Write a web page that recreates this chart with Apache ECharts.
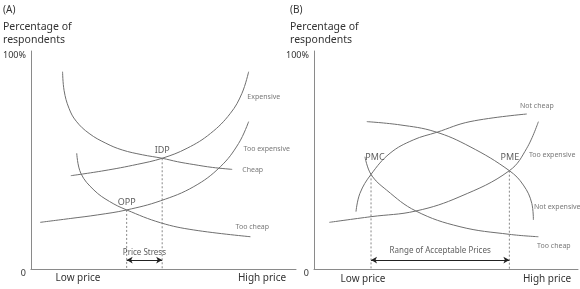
<!DOCTYPE html>
<html><head><meta charset="utf-8">
<script src="https://cdn.jsdelivr.net/npm/echarts@6/dist/echarts.min.js"></script>
<style>html,body{margin:0;padding:0;background:#fff}#c{width:580px;height:289px}</style>
</head><body><div id="c"></div>
<script>
// ---- data (x: price position 0..100, y: % of respondents) ----
const yTickLabels = {0: '0', 100: '100%'};
const panelTitles = ['(A)', '(B)'];
const axisTitle = 'Percentage of\nrespondents';
const xEndLabels = ['Low price', 'High price'];

// Panel A
const aExpensive    = [[15.5,42.8],[28.4,45.1],[41.3,48.0],[51.0,50.8],[60.7,55.4],[69.8,62.2],[77.5,71.4],[82.0,80.6],[84.6,90.5]];
const aCheap        = [[12.3,90.5],[12.9,81.8],[14.8,73.7],[17.6,67.8],[22.6,62.2],[29.1,57.7],[35.5,54.6],[43.3,52.4],[51.0,50.8],[57.0,49.2],[63.3,47.9],[70.5,46.6],[78.2,45.7]];
const aTooExpensive = [[3.6,21.4],[15.5,23.2],[25.8,24.8],[37.2,27.1],[50.4,31.3],[63.3,37.8],[73.6,46.9],[80.7,57.6],[84.6,67.6]];
const aTooCheap     = [[17.8,53.1],[19.4,43.9],[24.5,36.2],[30.5,31.0],[37.2,27.1],[50.4,21.2],[63.3,17.9],[85.3,14.8]];
const aPoints       = [['OPP',37.2,27.1],['IDP',51.0,50.8]];
const aRangeLabel   = 'Price Stress';
const aCurveLabels  = [['Expensive',84.1,79.0],['Too expensive',82.6,55.0],['Cheap',82.1,45.4],['Too cheap',79.5,19.3]];

// Panel B
const bNotCheap     = [[15.9,26.3],[17.4,34.7],[21.6,43.4],[28.8,53.1],[37.6,59.2],[46.5,62.7],[59.1,67.6],[80.6,71.1]];
const bNotExpensive = [[20.0,67.6],[32.6,66.1],[45.8,63.0],[59.1,56.1],[74.0,45.1],[79.3,38.5],[82.5,30.1],[83.1,22.5]];
const bTooCheap     = [[19.3,51.5],[21.6,43.4],[27.5,36.2],[38.6,26.6],[55.3,19.4],[74.0,15.9],[85.0,14.8]];
const bTooExpensive = [[5.8,21.4],[21.6,24.0],[38.6,26.6],[55.3,33.2],[74.0,45.1],[80.6,55.4],[85.0,67.6]];
const bPoints       = [['PMC',21.6,43.4],['PME',74.0,45.1]];
const bRangeLabel   = 'Range of Acceptable Prices';
const bCurveLabels  = [['Not cheap',78.0,74.8],['Too expensive',81.4,52.3],['Not expensive',83.3,28.4],['Too cheap',84.5,10.6]];

// ---- styling ----
const FONT = 'Noto Sans';
const curveColor = '#6f6f6f';
const axisColor = '#8a8a8a';
const textDark = '#333';
const textSoft = '#555';

function curve(data, idx) {
  return {type:'line', data, xAxisIndex:idx, yAxisIndex:idx, smooth:0.4, symbol:'none',
    lineStyle:{color:curveColor, width:1}, silent:true, z:3};
}
function dropLine(p, idx) {
  return {type:'line', data:[[p[1],p[2]],[p[1],0]], xAxisIndex:idx, yAxisIndex:idx, symbol:'none',
    lineStyle:{color:'#888', width:1, type:[2,2]}, silent:true, z:2};
}
function textSeries(items, idx, pos, size, color) {
  return {type:'scatter', xAxisIndex:idx, yAxisIndex:idx, symbolSize:0, silent:true, z:5,
    data: items.map(it => ({name: it[0], value:[it[1], it[2]]})),
    label:{show:true, formatter:'{b}', position:pos, distance:0, fontFamily:FONT, fontSize:size, color:color}};
}
function rangeSeries(points, label, idx, yArrow, yText) {
  return [{type:'line', xAxisIndex:idx, yAxisIndex:idx, data:[], symbol:'none', silent:true,
    markLine:{silent:true, symbol:['arrow','arrow'], symbolSize:[5,6], label:{show:false},
      lineStyle:{color:'#222', width:1, type:'solid'},
      data:[[{coord:[points[0][1], yArrow]},{coord:[points[1][1], yArrow]}]]}},
    textSeries([[label, (points[0][1]+points[1][1])/2, yText]], idx, 'inside', 8, textDark)];
}

const yAxisBase = (gi) => ({type:'value', gridIndex:gi, min:0, max:100, interval:100,
  axisLine:{show:true, lineStyle:{color:axisColor}}, axisTick:{show:false}, splitLine:{show:false},
  axisLabel:{formatter:v => yTickLabels[v], fontFamily:FONT, fontSize:9, color:textDark, margin:5, verticalAlign:'top'}});
const xAxisBase = (gi, max) => ({type:'value', gridIndex:gi, min:0, max, 
  axisLine:{show:true, onZero:false, lineStyle:{color:axisColor}}, axisTick:{show:false}, splitLine:{show:false}, axisLabel:{show:false}});

const chart = echarts.init(document.getElementById('c'), null, {renderer:'canvas'});
const gTxt = (text, x, y, size, align) => ({type:'text', x, y,
  style:{text, fontFamily:FONT, fontSize:size, fill:textDark, textAlign:align||'left', textVerticalAlign:'middle'}});

chart.setOption({
  animation:false,
  grid:[{left:30, top:51, width:266, height:218}, {left:314, top:51, width:264, height:218}],
  xAxis:[xAxisBase(0,103), xAxisBase(1,100)],
  yAxis:[yAxisBase(0), yAxisBase(1)],
  graphic:[
    gTxt(panelTitles[0], 3, 10.5, 10), gTxt(panelTitles[1], 290, 10.5, 10),
    {type:'text', x:3, y:21, style:{text:axisTitle, fontFamily:FONT, fontSize:10.5, fill:textDark, lineHeight:13}},
    {type:'text', x:290, y:21, style:{text:axisTitle, fontFamily:FONT, fontSize:10.5, fill:textDark, lineHeight:13}},
    gTxt(xEndLabels[0], 78, 278, 10, 'center'), gTxt(xEndLabels[1], 262, 278, 10, 'center'),
    gTxt(xEndLabels[0], 363, 279, 10, 'center'), gTxt(xEndLabels[1], 547, 279, 10, 'center')
  ],
  series:[
    curve(aExpensive,0), curve(aCheap,0), curve(aTooExpensive,0), curve(aTooCheap,0),
    ...aPoints.map(p => dropLine(p,0)),
    textSeries(aPoints.map(p => [p[0], p[1], p[2]+3.6]), 0, 'inside', 9, textDark),
    textSeries(aCurveLabels, 0, 'right', 7, textSoft),
    ...rangeSeries(aPoints, aRangeLabel, 0, 4.1, 7.6),
    curve(bNotCheap,1), curve(bNotExpensive,1), curve(bTooCheap,1), curve(bTooExpensive,1),
    ...bPoints.map(p => dropLine(p,1)),
    textSeries([[bPoints[0][0], 23.1, 51.4],[bPoints[1][0], 74.2, 51.4]], 1, 'inside', 9, textDark),
    textSeries(bCurveLabels, 1, 'right', 7, textSoft),
    ...rangeSeries(bPoints, bRangeLabel, 1, 4.1, 8.3)
  ]
});
</script></body></html>
